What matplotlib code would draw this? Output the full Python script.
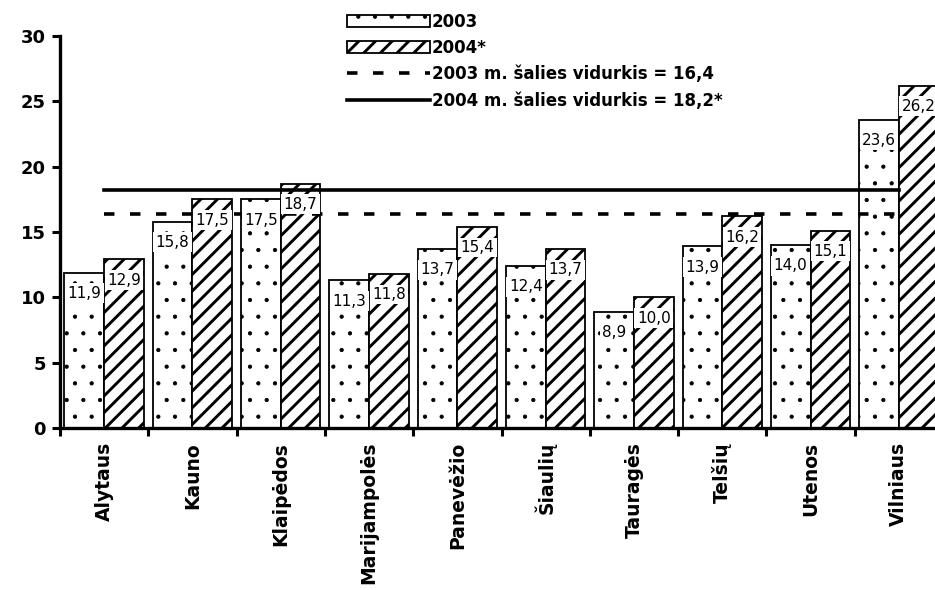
import numpy as np
import matplotlib
matplotlib.use('Agg')
from matplotlib import pyplot as plt
from matplotlib.patches import Rectangle
from matplotlib.legend_handler import HandlerPatch

regions = ['Alytaus', 'Kauno', 'Klaipėdos', 'Marijampolės', 'Panevėžio',
           'Šiaulių', 'Tauragės', 'Telšių', 'Utenos', 'Vilniaus']
vals_2003 = [11.9, 15.8, 17.5, 11.3, 13.7, 12.4, 8.9, 13.9, 14.0, 23.6]
vals_2004 = [12.9, 17.5, 18.7, 11.8, 15.4, 13.7, 10.0, 16.2, 15.1, 26.2]
avg_2003 = 16.4
avg_2004 = 18.2
yticks = [0, 5, 10, 15, 20, 25, 30]
legend_labels = ['2003', '2004*', '2003 m. šalies vidurkis = 16,4',
                 '2004 m. šalies vidurkis = 18,2*']

plt.rcParams['font.family'] = 'DejaVu Sans'

DOT_LW = 0.6
STRIPE_LW = 2.1

fig = plt.figure(figsize=(9.35, 5.9), dpi=100)
ax = fig.add_axes([60 / 935, 162 / 590, 883 / 935, 392 / 590])

x = np.arange(len(regions))
w = 0.45
# hatch linewidth is taken per patch when it is created
plt.rcParams['hatch.linewidth'] = DOT_LW
b1 = ax.bar(x - w / 2, vals_2003, w, color='white', edgecolor='black',
            linewidth=1.3, hatch='.', zorder=2)
plt.rcParams['hatch.linewidth'] = STRIPE_LW
b2 = ax.bar(x + w / 2, vals_2004, w, color='white', edgecolor='black',
            linewidth=1.3, hatch='//', zorder=2)

xs = [x[0], x[-1]]
l1, = ax.plot(xs, [avg_2003, avg_2003], color='black', lw=2.6,
              dashes=(2.9, 4.3), zorder=3)
l2, = ax.plot(xs, [avg_2004, avg_2004], color='black', lw=2.6, zorder=3)

for bars, vals in ((b1, vals_2003), (b2, vals_2004)):
    for rect, v in zip(bars, vals):
        ax.annotate(f'{v:.1f}'.replace('.', ','),
                    (rect.get_x() + rect.get_width() / 2, v),
                    xytext=(0, -9.5), textcoords='offset points',
                    ha='center', va='top', fontsize=11, zorder=4,
                    bbox=dict(facecolor='white', edgecolor='none', pad=1.8),
                    annotation_clip=False)

ax.set_xlim(-0.5, len(regions) - 0.5)
ax.set_ylim(0, 30)
ax.set_yticks(yticks)
ax.set_yticklabels([str(t) for t in yticks], fontsize=13, fontweight='bold')
ax.set_xticks(x)
ax.set_xticklabels(regions, rotation=90, fontsize=13.5, fontweight='bold')
ax.set_xticks(np.arange(len(regions)) - 0.5, minor=True)
ax.tick_params(axis='x', which='major', length=0, pad=10)
ax.tick_params(axis='x', which='minor', length=6, width=2.2, direction='out')
ax.tick_params(axis='y', length=6, width=2.2, pad=4)

for s in ('top', 'right'):
    ax.spines[s].set_visible(False)
for s in ('left', 'bottom'):
    ax.spines[s].set_linewidth(2.4)


def dot_patch(legend, orig_handle, xdescent, ydescent, width, height,
              fontsize):
    plt.rcParams['hatch.linewidth'] = DOT_LW
    return Rectangle((-xdescent, -ydescent), width, height)


def stripe_patch(legend, orig_handle, xdescent, ydescent, width, height,
                 fontsize):
    plt.rcParams['hatch.linewidth'] = STRIPE_LW
    return Rectangle((-xdescent, -ydescent), width, height)


h1 = b1.patches[0]
h2 = b2.patches[0]
fig.legend([h1, h2, l1, l2], legend_labels,
           handler_map={h1: HandlerPatch(patch_func=dot_patch),
                        h2: HandlerPatch(patch_func=stripe_patch)},
           loc='upper left', bbox_to_anchor=(335 / 935, 1 - 1 / 590),
           frameon=False, prop={'size': 12, 'weight': 'bold'},
           handlelength=5.0, handleheight=0.75, handletextpad=0.1,
           labelspacing=0.5, borderpad=0.2)

fig.savefig('out.png', dpi=100, facecolor='white')
plt.close()
